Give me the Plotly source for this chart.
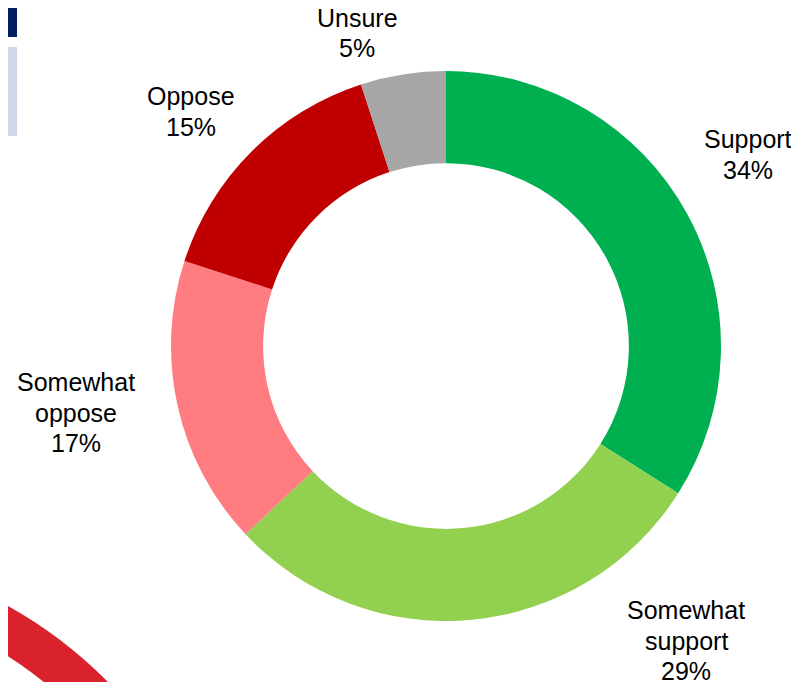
import plotly.graph_objects as go

W, H = 799, 682
OFF = 8  # page body margin in the browser; shift drawing to compensate

categories = ["Support", "Somewhat support", "Somewhat oppose", "Oppose", "Unsure"]
label_lines = [["Support"], ["Somewhat", "support"], ["Somewhat", "oppose"], ["Oppose"], ["Unsure"]]
values = [34, 29, 17, 15, 5]
colors = ["#00B050", "#92D050", "#FF7C80", "#C00000", "#A6A6A6"]

# label block position: centre x and first-line centre y (page pixels), line spacing
label_px = [(748, 139), (686, 610), (76, 382), (191, 96), (357, 18)]
LINE = 30.5

cx, cy, R = 446 - OFF, 346 - OFF, 275


def px_x(x):
    return x / W


def px_y(y):
    return 1 - y / H


fig = go.Figure(go.Pie(
    labels=categories,
    values=values,
    sort=False,
    direction="clockwise",
    rotation=0,
    hole=0.665,
    marker=dict(colors=colors, line=dict(width=0)),
    textinfo="none",
    hoverinfo="label+percent",
    showlegend=False,
    domain=dict(x=[(cx - R) / W, (cx + R) / W],
                y=[(H - cy - R) / H, (H - cy + R) / H]),
))

for lines, v, (px, py) in zip(label_lines, values, label_px):
    for i, t in enumerate(lines + [f"{v}%"]):
        fig.add_annotation(
            x=px_x(px - OFF), y=px_y(py + i * LINE - OFF), xref="paper", yref="paper",
            xanchor="center", yanchor="middle", showarrow=False,
            text=t, align="center",
            font=dict(family="Liberation Sans, Arial, sans-serif", size=25, color="#000000"),
        )

# decorative slide fragments
shapes = [
    dict(type="rect", xref="paper", yref="paper",
         x0=px_x(0 - OFF), x1=px_x(17 - OFF), y0=px_y(37 - OFF), y1=px_y(0 - OFF),
         fillcolor="#002060", line=dict(width=0), layer="above"),
    dict(type="rect", xref="paper", yref="paper",
         x0=px_x(0 - OFF), x1=px_x(17 - OFF), y0=px_y(136 - OFF), y1=px_y(47 - OFF),
         fillcolor="#D1D9E9", line=dict(width=0), layer="above"),
]
rcx, rcy, rr = -210 - OFF, 997 - OFF, 426
shapes.append(dict(type="circle", xref="paper", yref="paper",
                   x0=px_x(rcx - rr), x1=px_x(rcx + rr),
                   y0=px_y(rcy + rr), y1=px_y(rcy - rr),
                   line=dict(color="#D9222B", width=43), fillcolor="rgba(0,0,0,0)", layer="above"))

fig.update_layout(
    width=W, height=H,
    margin=dict(l=0, r=0, t=0, b=0),
    paper_bgcolor="#FFFFFF",
    plot_bgcolor="#FFFFFF",
    shapes=shapes,
)

fig.write_html("out.html")
